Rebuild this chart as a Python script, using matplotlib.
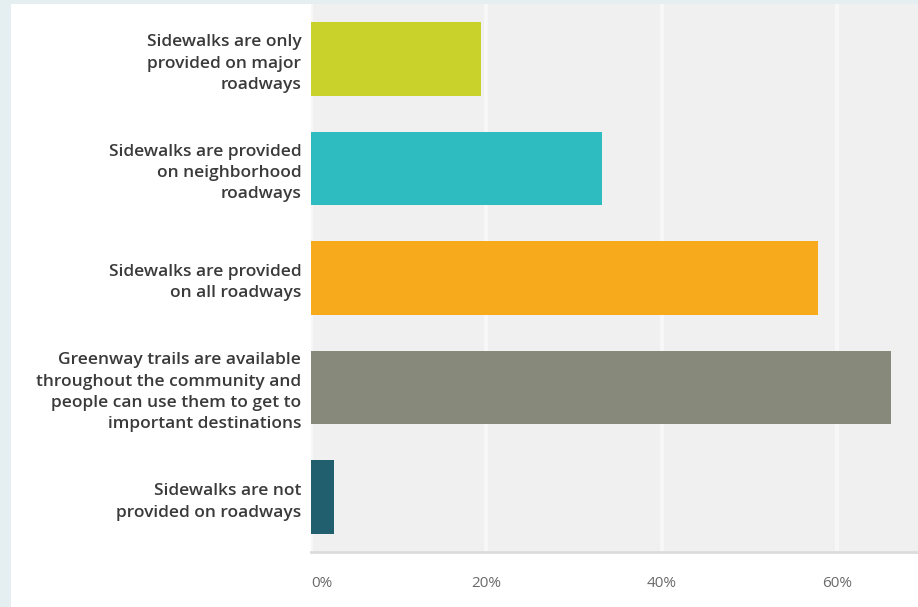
import matplotlib
matplotlib.use("Agg")
import matplotlib.pyplot as plt
from matplotlib.patches import Rectangle
from matplotlib.ticker import FuncFormatter

# Survey answers and share of respondents (%)
categories = [
    "Sidewalks are only\nprovided on major\nroadways",
    "Sidewalks are provided\non neighborhood\nroadways",
    "Sidewalks are provided\non all roadways",
    "Greenway trails are available\nthroughout the community and\npeople can use them to get to\nimportant destinations",
    "Sidewalks are not\nprovided on roadways",
]
values = [19.4, 33.2, 57.8, 66.1, 2.6]
bar_colors = ["#c9d22a", "#2fbcc1", "#f6aa1c", "#878a7b", "#215f6f"]
x_ticks = [0, 20, 40, 60]

fig = plt.figure(figsize=(9.18, 6.07), dpi=100, facecolor="#e5eff2")
# white panel behind the chart
fig.add_artist(Rectangle((11 / 918, 0), 1, 1 - 4 / 607, transform=fig.transFigure,
                         facecolor="white", edgecolor="none", zorder=-5))

ax = fig.add_axes([311 / 918, 55 / 607, 1 - 311 / 918, (552 - 4) / 607])
ax.set_facecolor("#f0f0f0")

pos = list(range(len(categories)))
ax.barh(pos, values, height=0.67, color=bar_colors, zorder=3)

ax.set_ylim(len(categories) - 0.5, -0.5)
ax.set_xlim(0, 69.2)

ax.set_yticks(pos)
ax.set_yticklabels(categories, fontsize=12.5, fontfamily="Open Sans", fontweight="semibold",
                   color="#3a3a3a", linespacing=1.45)
ax.set_xticks(x_ticks)
ax.xaxis.set_major_formatter(FuncFormatter(lambda v, _: f"{v:.0f}%"))
for i, lbl in enumerate(ax.get_xticklabels()):
    lbl.set_fontfamily("Open Sans")
    lbl.set_fontsize(11)
    lbl.set_color("#6a6a6a")
    if i == 0:
        lbl.set_horizontalalignment("left")

ax.tick_params(axis="y", length=0, pad=7)
ax.tick_params(axis="x", length=0, pad=17)

ax.grid(axis="x", color="#f7f7f7", linewidth=3, zorder=1)
ax.set_axisbelow(True)

for side in ["top", "right", "left"]:
    ax.spines[side].set_visible(False)
ax.spines["bottom"].set_color("#dcdcdc")
ax.spines["bottom"].set_linewidth(2)

fig.savefig("out.png", dpi=100, facecolor=fig.get_facecolor())
